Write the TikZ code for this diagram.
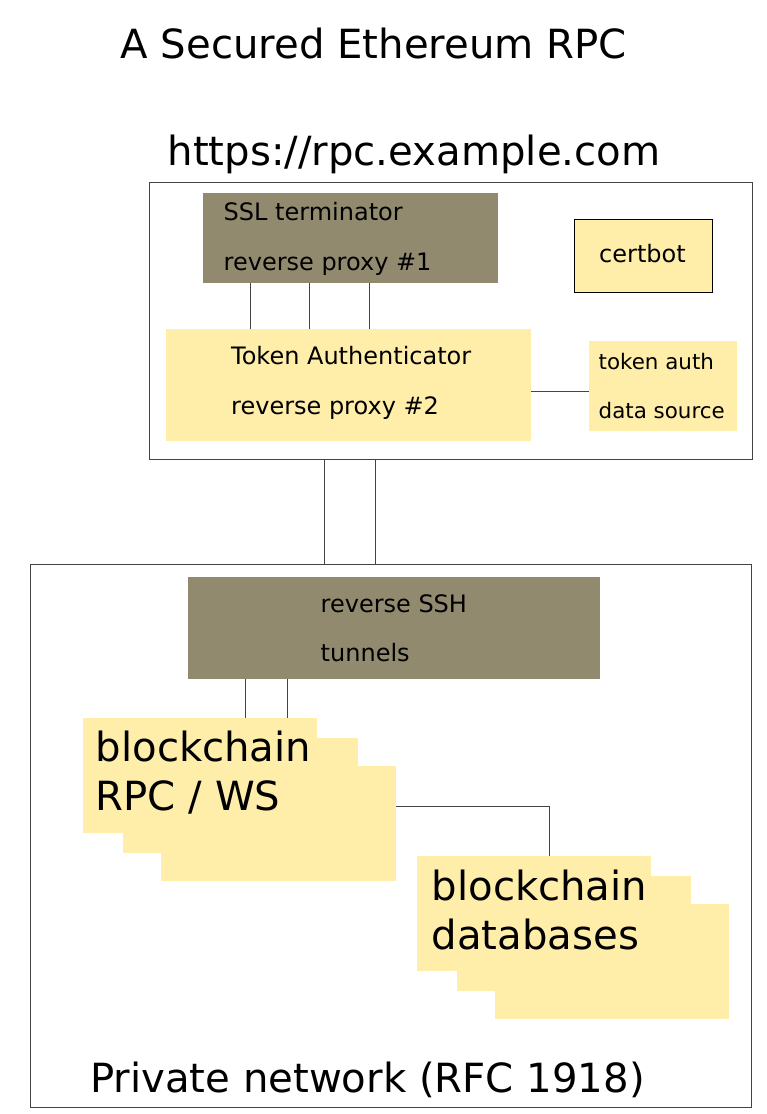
\documentclass[tikz,border=0pt]{standalone}
\usepackage{fontspec}
\setmainfont{DejaVu Sans}
\definecolor{khaki}{HTML}{918A6F}
\definecolor{pale}{HTML}{FFEEAA}
\definecolor{ln}{HTML}{444444}
\tikzset{
  frame/.style={draw=ln, line width=1pt, fill=none, anchor=north west, inner sep=0pt},
  darkbox/.style={fill=khaki, draw=none, anchor=north west, inner sep=0pt},
  palebox/.style={fill=pale, draw=none, anchor=north west, inner sep=0pt},
  bordered/.style={fill=pale, draw=black, line width=1pt, anchor=north west, inner sep=0pt},
  wire/.style={draw=ln, line width=1pt},
  big/.style={font=\fontsize{40.2}{48}\selectfont, inner sep=0pt, anchor=base west},
  mid/.style={font=\fontsize{24}{29}\selectfont, inner sep=0pt, anchor=base west},
  small/.style={font=\fontsize{21.4}{25}\selectfont, inner sep=0pt, anchor=base west},
}
\begin{document}
\begin{tikzpicture}[x=1pt,y=-1pt]
\useasboundingbox (0,0) rectangle (767,1114);
% frames
\node[frame, minimum width=603pt, minimum height=277pt] (top) at (149,182) {};
\node[frame, minimum width=721pt, minimum height=543pt] (bot) at (30,564) {};
% top box contents
\node[darkbox, minimum width=295pt, minimum height=90pt] (ssl) at (203,193) {};
\node[bordered, minimum width=138.5pt, minimum height=73.5pt] (cert) at (573.5,218.5) {};
\node[palebox, minimum width=365pt, minimum height=111.5pt] (tok) at (166,329) {};
\node[palebox, minimum width=147.5pt, minimum height=89.5pt] (data) at (589,341) {};
% bottom box contents
\node[darkbox, minimum width=411.5pt, minimum height=102pt] (ssh) at (188,577) {};
\node[palebox, minimum width=234.5pt, minimum height=114.5pt] (r3) at (161,766) {};
\node[palebox, minimum width=234.5pt, minimum height=115pt] (r2) at (123,738) {};
\node[palebox, minimum width=234pt, minimum height=114.5pt] (r1) at (83,718) {};
\node[palebox, minimum width=234pt, minimum height=114.7pt] (d3) at (495,904) {};
\node[palebox, minimum width=234pt, minimum height=114.7pt] (d2) at (457,876) {};
\node[palebox, minimum width=234pt, minimum height=114.5pt] (d1) at (417,856) {};
% texts
\node[big] (title) at (120.5,58.5) {A Secured Ethereum RPC};
\node[big] (url) at (167.5,165) {https://rpc.example.com};
\node[big] (priv) at (90,1092) {Private network (RFC 1918)};
\node[mid] (ssl1) at (223.5,220.7) {SSL terminator};
\node[mid] (ssl2) at (223.5,270) {reverse proxy \#1};
\node[mid, anchor=base] (certt) at (642.5,262.7) {certbot};
\node[mid] (tok1) at (231,364) {Token Authenticator};
\node[mid] (tok2) at (231,414) {reverse proxy \#2};
\node[small] (data1) at (598.5,369) {token auth};
\node[small] (data2) at (598.5,418.3) {data source};
\node[mid] (ssh1) at (320.5,612.3) {reverse SSH};
\node[mid] (ssh2) at (320.5,661) {tunnels};
\node[big] (rpc1) at (95.5,761.7) {blockchain};
\node[big] (rpc2) at (95.5,810.7) {RPC / WS};
\node[big] (db1) at (431.5,900) {blockchain};
\node[big] (db2) at (431.5,949.3) {databases};
% connector coordinates
\coordinate (xa) at (250.7,0);
\coordinate (xb) at (309,0);
\coordinate (xc) at (369.6,0);
\coordinate (ya) at (0,391.3);
\coordinate (xd) at (324.7,0);
\coordinate (xe) at (375,0);
\coordinate (xf) at (245.3,0);
\coordinate (xg) at (287.8,0);
\coordinate (yb) at (0,806);
\coordinate (xh) at (549,0);
\coordinate (bend) at (549,806);
% connectors
\draw[wire] (ssl.south -| xa) -- (tok.north -| xa);
\draw[wire] (ssl.south -| xb) -- (tok.north -| xb);
\draw[wire] (ssl.south -| xc) -- (tok.north -| xc);
\draw[wire] (tok.east |- ya) -- (data.west |- ya);
\draw[wire] (top.south -| xd) -- (bot.north -| xd);
\draw[wire] (top.south -| xe) -- (bot.north -| xe);
\draw[wire] (ssh.south -| xf) -- (r1.north -| xf);
\draw[wire] (ssh.south -| xg) -- (r1.north -| xg);
\draw[wire] (r3.east |- yb) -- (bend) -- (d1.north -| xh);
\end{tikzpicture}
\end{document}
